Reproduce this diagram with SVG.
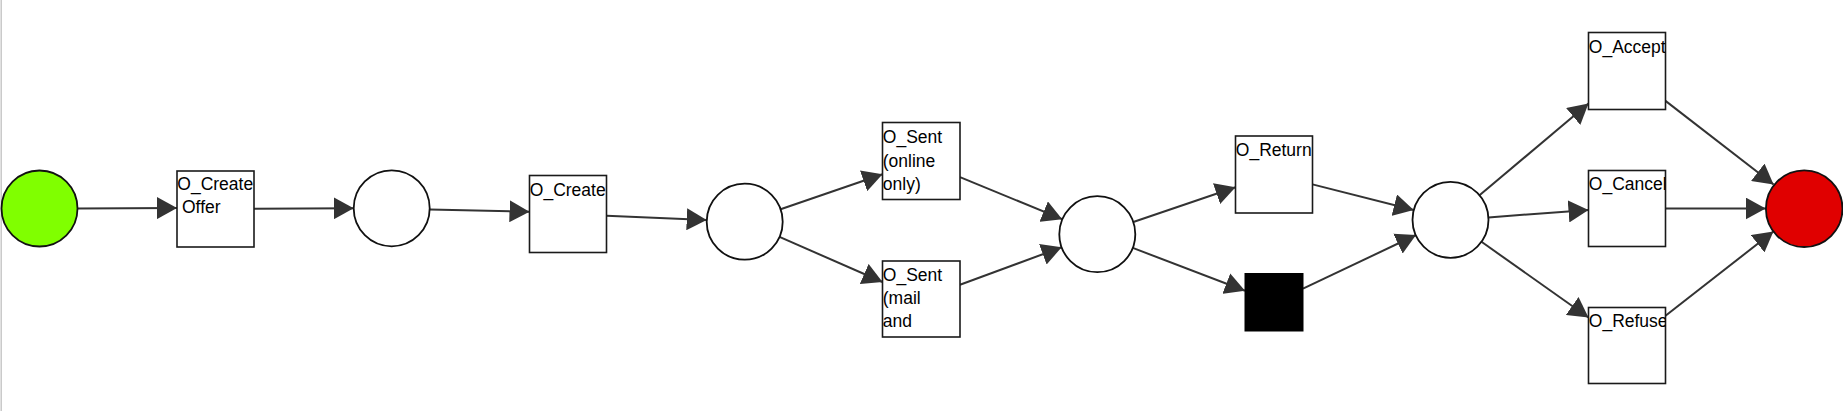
<svg xmlns="http://www.w3.org/2000/svg" width="1843" height="411" viewBox="0 0 1843 411">
<style>
.place{fill:#ffffff;stroke:#111111;stroke-width:1.8}
.trans{fill:#ffffff;stroke:#1a1a1a;stroke-width:1.6}
.silent{fill:#000000;stroke:#000000;stroke-width:1}
.lbl{font-family:"Liberation Sans",Arial,sans-serif;font-size:17.5px;fill:#000000}
.edge{fill:none;stroke:#333333;stroke-width:2}
</style>
<defs>
<marker id="arr" markerUnits="userSpaceOnUse" markerWidth="22" markerHeight="22" refX="20" refY="11" orient="auto">
<path d="M0,0 L20,11 L0,22 Z" fill="#333333"/>
</marker>
<clipPath id="c1"><rect x="177" y="171" width="77" height="76"/></clipPath>
<clipPath id="c2"><rect x="529.5" y="175.5" width="77" height="77"/></clipPath>
<clipPath id="c3"><rect x="882.5" y="122.5" width="77.5" height="77"/></clipPath>
<clipPath id="c4"><rect x="882.5" y="261" width="77.5" height="76"/></clipPath>
<clipPath id="c5"><rect x="1235.5" y="136" width="77" height="77"/></clipPath>
<clipPath id="c7"><rect x="1588.5" y="32.5" width="77" height="77"/></clipPath>
<clipPath id="c8"><rect x="1588.5" y="170.5" width="77" height="76"/></clipPath>
<clipPath id="c9"><rect x="1588.5" y="307.5" width="77" height="76"/></clipPath>
</defs>
<rect x="0" y="0" width="1843" height="411" fill="#ffffff"/>
<line x1="1.2" y1="0" x2="1.2" y2="411" stroke="#c8c8c8" stroke-width="1.5"/>

<g id="connectors">
<line class="edge" marker-end="url(#arr)" x1="77.5" y1="208.4" x2="177" y2="208"/>
<line class="edge" marker-end="url(#arr)" x1="254" y1="208.8" x2="353.7" y2="208.2"/>
<line class="edge" marker-end="url(#arr)" x1="429.7" y1="209.4" x2="529.5" y2="211.8"/>
<line class="edge" marker-end="url(#arr)" x1="606.5" y1="215.8" x2="706.7" y2="220"/>
<line class="edge" marker-end="url(#arr)" x1="780.6" y1="209.3" x2="882.5" y2="174.3"/>
<line class="edge" marker-end="url(#arr)" x1="779.5" y1="236.9" x2="882.5" y2="282"/>
<line class="edge" marker-end="url(#arr)" x1="960" y1="177.1" x2="1062.2" y2="219.2"/>
<line class="edge" marker-end="url(#arr)" x1="960" y1="284.7" x2="1061.6" y2="247.3"/>
<line class="edge" marker-end="url(#arr)" x1="1133.3" y1="222" x2="1235.5" y2="187.2"/>
<line class="edge" marker-end="url(#arr)" x1="1132.8" y1="247.9" x2="1245" y2="290.8"/>
<line class="edge" marker-end="url(#arr)" x1="1312.5" y1="184.4" x2="1413.7" y2="210"/>
<line class="edge" marker-end="url(#arr)" x1="1303" y1="288.7" x2="1416" y2="235"/>
<line class="edge" marker-end="url(#arr)" x1="1479.5" y1="195.3" x2="1588.5" y2="103.6"/>
<line class="edge" marker-end="url(#arr)" x1="1488.4" y1="217.4" x2="1588.5" y2="210"/>
<line class="edge" marker-end="url(#arr)" x1="1481.5" y1="241.8" x2="1588.5" y2="317.5"/>
<line class="edge" marker-end="url(#arr)" x1="1665.5" y1="100.9" x2="1773.6" y2="184.5"/>
<line class="edge" marker-end="url(#arr)" x1="1665.5" y1="208.5" x2="1765.7" y2="208.5"/>
<line class="edge" marker-end="url(#arr)" x1="1665.5" y1="315.8" x2="1773.4" y2="231.5"/>
</g>

<g id="p_start"><circle class="place" cx="39.5" cy="208.5" r="38" fill="#80ff00" style="fill:#80ff00"/></g>
<g id="t_create_offer"><rect class="trans" x="177" y="171" width="77" height="76"/>
<g clip-path="url(#c1)"><text class="lbl" x="177.3" y="190">O_Create</text><text class="lbl" x="182" y="213.3">Offer</text></g></g>
<g id="p1"><circle class="place" cx="391.7" cy="208.3" r="38"/></g>
<g id="t_create"><rect class="trans" x="529.5" y="175.5" width="77" height="77"/>
<g clip-path="url(#c2)"><text class="lbl" x="529.8" y="195.8">O_Create</text></g></g>
<g id="p2"><circle class="place" cx="744.7" cy="221.7" r="38"/></g>
<g id="t_sent_online"><rect class="trans" x="882.5" y="122.5" width="77.5" height="77"/>
<g clip-path="url(#c3)"><text class="lbl" x="882.8" y="143.2">O_Sent</text><text class="lbl" x="882.8" y="166.5">(online</text><text class="lbl" x="882.8" y="189.8">only)</text></g></g>
<g id="t_sent_mail"><rect class="trans" x="882.5" y="261" width="77.5" height="76"/>
<g clip-path="url(#c4)"><text class="lbl" x="882.8" y="280.6">O_Sent</text><text class="lbl" x="882.8" y="303.9">(mail</text><text class="lbl" x="882.8" y="327.2">and</text></g></g>
<g id="p3"><circle class="place" cx="1097.3" cy="234.2" r="38"/></g>
<g id="t_return"><rect class="trans" x="1235.5" y="136" width="77" height="77"/>
<g clip-path="url(#c5)"><text class="lbl" x="1235.8" y="156.4">O_Return</text></g></g>
<g id="t_silent"><rect class="silent" x="1245" y="273.5" width="58" height="57.5"/></g>
<g id="p4"><circle class="place" cx="1450.5" cy="219.8" r="38"/></g>
<g id="t_accept"><rect class="trans" x="1588.5" y="32.5" width="77" height="77"/>
<g clip-path="url(#c7)"><text class="lbl" x="1588.8" y="52.5">O_Accept</text></g></g>
<g id="t_cancel"><rect class="trans" x="1588.5" y="170.5" width="77" height="76"/>
<g clip-path="url(#c8)"><text class="lbl" x="1588.8" y="190">O_Cancel</text></g></g>
<g id="t_refuse"><rect class="trans" x="1588.5" y="307.5" width="77" height="76"/>
<g clip-path="url(#c9)"><text class="lbl" x="1588.8" y="326.8">O_Refuse</text></g></g>
<g id="p_end"><circle class="place" cx="1804.2" cy="208.7" r="38.3" style="fill:#e00000"/></g>
</svg>
